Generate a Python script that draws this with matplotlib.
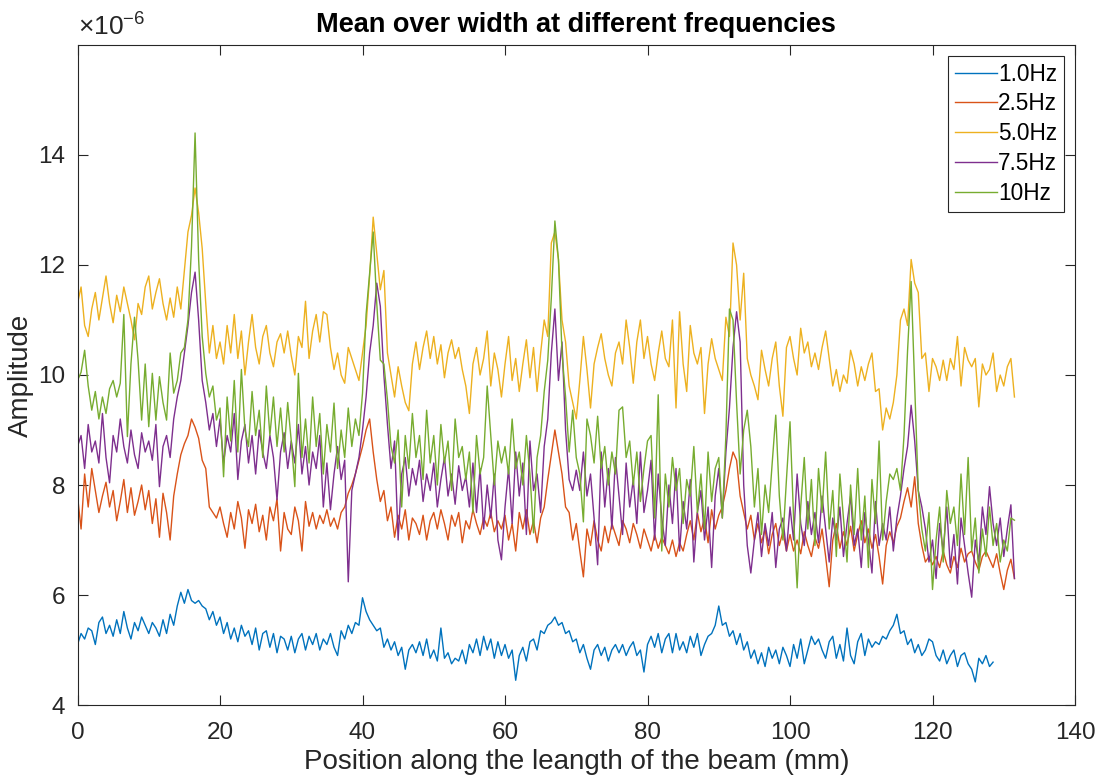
import numpy as np
import matplotlib
matplotlib.use('Agg')
import matplotlib.pyplot as plt

plt.rcParams['font.family'] = ['Liberation Sans', 'DejaVu Sans']
plt.rcParams['mathtext.fontset'] = 'custom'
plt.rcParams['mathtext.rm'] = 'Liberation Sans'
plt.rcParams['mathtext.it'] = 'Liberation Sans:italic'

# amplitudes in units of 1e-6, sampled every 0.5 mm
amp_1hz = [
    5.1, 5.3, 5.2, 5.4, 5.35, 5.1, 5.5, 5.6, 5.3, 5.45, 5.25, 5.55, 5.3, 5.7, 5.4, 5.2, 5.5, 5.35, 5.6, 5.45,
    5.3, 5.5, 5.4, 5.25, 5.55, 5.3, 5.65, 5.45, 5.8, 6.05, 5.85, 6.1, 5.9, 5.85, 5.9, 5.8, 5.75, 5.55, 5.7, 5.45,
    5.6, 5.3, 5.5, 5.2, 5.4, 5.15, 5.45, 5.25, 5.35, 5.1, 5.4, 5.0, 5.3, 5.35, 5.05, 5.3, 4.95, 5.25, 5.2, 5.0,
    5.25, 4.95, 5.2, 5.3, 5.0, 5.25, 5.1, 5.3, 5.0, 5.2, 5.1, 5.3, 5.05, 4.9, 5.35, 5.2, 5.45, 5.3, 5.5, 5.45,
    5.95, 5.7, 5.55, 5.45, 5.35, 5.4, 5.05, 5.2, 5.0, 5.15, 4.9, 5.05, 4.65, 5.0, 5.1, 4.95, 5.15, 4.9, 5.2, 4.85,
    5.0, 4.8, 5.4, 4.85, 4.95, 4.75, 4.85, 4.8, 5.0, 4.75, 5.1, 4.95, 5.2, 4.9, 5.25, 5.0, 5.2, 4.85, 5.15, 4.9,
    5.1, 4.85, 5.0, 4.45, 4.9, 5.05, 4.8, 5.15, 5.2, 5.0, 5.35, 5.3, 5.45, 5.5, 5.6, 5.45, 5.5, 5.3, 5.35, 5.15,
    5.2, 4.95, 5.1, 4.85, 4.65, 5.0, 5.1, 4.9, 5.05, 4.8, 5.0, 5.1, 4.95, 5.1, 4.9, 5.05, 5.15, 4.9, 5.0, 4.6,
    5.1, 5.25, 5.05, 5.3, 4.95, 5.2, 5.3, 4.95, 5.3, 5.0, 5.15, 4.95, 5.25, 5.05, 5.3, 4.9, 5.1, 5.25, 5.3, 5.45,
    5.8, 5.45, 5.5, 5.25, 5.35, 5.1, 5.3, 5.0, 5.15, 4.85, 5.0, 4.75, 4.95, 4.7, 5.05, 4.85, 5.0, 4.75, 5.05, 4.9,
    4.7, 5.1, 4.85, 5.2, 4.75, 5.0, 5.25, 5.1, 5.2, 5.0, 4.85, 5.15, 5.25, 4.85, 5.1, 4.8, 5.4, 4.9, 4.75, 5.15,
    5.3, 4.9, 5.2, 5.05, 5.15, 5.1, 5.25, 5.2, 5.35, 5.45, 5.65, 5.3, 5.35, 5.1, 5.2, 4.95, 5.1, 4.9, 5.0, 5.2,
    5.15, 4.9, 4.8, 5.0, 4.75, 4.9, 5.0, 4.7, 4.9, 4.95, 4.75, 4.65, 4.42, 4.85, 4.75, 4.9, 4.7, 4.78,
]

amp_2_5hz = [
    7.8, 7.2, 8.2, 7.6, 8.3, 7.9, 7.5, 7.8, 8.05, 7.6, 7.9, 7.35, 7.7, 8.1, 7.5, 7.95, 7.45, 7.7, 8.0, 7.55,
    7.9, 7.3, 7.75, 7.05, 7.85, 7.5, 7.0, 7.8, 8.2, 8.55, 8.75, 8.9, 9.2, 9.05, 8.85, 8.45, 8.3, 7.6, 7.5, 7.4,
    7.6, 7.3, 7.05, 7.5, 7.2, 7.7, 7.4, 6.85, 7.55, 7.3, 7.65, 7.15, 7.45, 7.0, 7.6, 7.35, 7.75, 6.8, 7.5, 7.2,
    7.1, 7.6, 7.35, 6.8, 7.7, 7.25, 7.5, 7.2, 7.45, 7.3, 7.55, 7.25, 7.4, 7.2, 7.5, 7.6, 7.85, 8.0, 8.2, 8.45,
    8.7, 9.0, 9.2, 8.6, 8.1, 7.7, 7.9, 7.35, 7.6, 7.05, 7.45, 7.2, 7.55, 7.0, 7.4, 7.3, 7.1, 7.45, 7.0, 7.35,
    7.5, 7.2, 7.55, 7.3, 7.0, 7.45, 7.25, 7.5, 6.95, 7.35, 7.2, 7.55, 7.3, 7.1, 7.4, 7.25, 7.5, 7.15, 7.35, 7.2,
    7.45, 7.0, 7.3, 6.8, 7.5, 7.2, 7.55, 7.1, 7.35, 6.95, 7.4, 7.6, 8.1, 8.55, 9.0, 8.6, 8.2, 7.6, 7.5, 7.0,
    7.3, 6.8, 6.33, 7.2, 6.9, 7.35, 7.0, 6.8, 7.25, 6.95, 7.3, 7.1, 6.9, 7.35, 7.2, 6.95, 7.3, 7.1, 6.85, 7.2,
    7.0, 6.8, 7.1, 6.85, 7.05, 6.9, 6.75, 7.0, 6.7, 6.95, 6.8, 7.1, 7.35, 7.0, 7.5, 7.15, 7.4, 6.95, 7.55, 7.2,
    7.45, 7.6, 7.9, 8.3, 8.6, 8.45, 7.8, 7.5, 7.2, 7.45, 7.0, 7.3, 6.95, 7.2, 6.75, 7.1, 7.3, 6.9, 7.15, 6.8,
    7.1, 6.8, 7.0, 6.75, 7.15, 6.9, 6.7, 7.05, 6.85, 7.2, 6.7, 6.15, 7.0, 7.3, 6.85, 7.15, 6.9, 7.25, 6.8, 7.1,
    7.35, 6.95, 7.2, 6.85, 7.1, 6.7, 6.2, 6.9, 7.15, 6.95, 7.25, 7.4, 7.7, 7.95, 7.6, 8.15, 7.3, 6.9, 6.6, 6.7,
    6.55, 6.7, 6.5, 6.8, 6.55, 6.4, 6.7, 6.5, 6.85, 6.6, 6.75, 6.8, 6.6, 6.45, 6.7, 6.8, 6.65, 6.5, 6.75, 6.4,
    6.1, 6.45, 6.65, 6.3,
]

amp_5hz = [
    11.3, 11.6, 10.9, 10.7, 11.2, 11.5, 11.0, 11.4, 11.8, 11.3, 10.95, 11.45, 11.15, 11.6, 11.3, 11.0, 10.64, 11.3, 11.1, 11.6,
    11.8, 11.2, 11.5, 11.75, 11.3, 11.0, 11.4, 11.05, 11.6, 11.2, 11.9, 12.6, 12.9, 13.4, 12.95, 12.3, 11.3, 10.4, 10.9, 10.3,
    10.6, 10.2, 10.9, 10.4, 11.1, 10.3, 10.8, 10.0, 10.6, 11.1, 10.5, 10.2, 10.7, 10.9, 10.4, 10.15, 10.6, 10.75, 10.4, 10.8,
    10.35, 10.0, 10.7, 10.5, 11.34, 10.3, 10.8, 11.1, 10.6, 11.15, 11.1, 10.5, 10.1, 10.4, 10.0, 9.85, 10.5, 10.3, 10.1, 9.9,
    10.4, 10.9, 11.8, 12.87, 12.2, 11.55, 11.9, 10.4, 10.0, 9.6, 10.15, 9.8, 9.5, 9.35, 10.2, 10.6, 10.1, 10.5, 10.8, 10.3,
    10.7, 10.2, 10.55, 9.95, 10.4, 10.64, 10.3, 10.5, 10.1, 9.8, 9.3, 10.2, 10.5, 10.0, 10.3, 10.8, 9.8, 10.4, 10.1, 9.6,
    10.2, 10.7, 9.9, 10.3, 9.7, 10.2, 10.64, 9.95, 10.5, 9.7, 10.4, 11.0, 10.7, 12.4, 12.6, 12.1, 11.0, 10.6, 9.8, 9.5,
    9.2, 9.9, 10.7, 10.1, 9.4, 10.2, 10.5, 10.75, 10.3, 10.0, 9.8, 10.4, 10.6, 10.2, 11.0, 10.5, 9.85, 10.6, 11.0, 10.3,
    10.7, 10.2, 9.9, 10.4, 10.8, 10.3, 10.15, 11.0, 9.4, 11.15, 10.2, 9.7, 10.9, 10.4, 10.2, 10.5, 9.3, 10.2, 10.66, 10.3,
    10.1, 9.9, 11.05, 10.7, 12.4, 12.0, 11.0, 11.85, 10.3, 10.0, 9.8, 9.55, 10.45, 10.1, 9.8, 10.3, 10.6, 9.8, 9.25, 10.5,
    10.7, 10.3, 10.0, 10.85, 10.4, 10.6, 10.15, 10.4, 10.1, 10.5, 10.8, 10.3, 9.8, 10.1, 9.7, 10.0, 9.85, 10.45, 10.2, 9.8,
    10.15, 9.9, 10.2, 10.4, 9.7, 9.75, 9.0, 9.4, 9.2, 9.5, 10.0, 11.0, 11.2, 10.9, 12.1, 11.67, 11.5, 10.3, 10.4, 9.7,
    10.3, 10.15, 9.9, 10.27, 9.9, 10.3, 10.1, 10.7, 9.8, 10.5, 10.27, 10.15, 10.3, 9.42, 10.2, 10.0, 10.1, 10.4, 9.7, 10.0,
    9.8, 10.15, 10.3, 9.6,
]

amp_7_5hz = [
    8.7, 8.9, 8.3, 9.1, 8.6, 8.8, 8.4, 9.3, 8.5, 8.04, 8.9, 8.6, 9.2, 8.7, 8.4, 9.0, 8.55, 8.3, 8.95, 8.6,
    8.8, 8.45, 9.1, 7.97, 8.7, 8.9, 8.5, 9.2, 9.6, 9.9, 10.4, 10.9, 11.5, 11.87, 11.0, 9.9, 9.5, 9.0, 9.3, 8.7,
    9.2, 8.4, 8.9, 8.6, 9.3, 8.1, 8.8, 9.1, 8.4, 8.9, 8.2, 9.0, 8.6, 8.3, 8.9, 8.5, 7.73, 8.6, 8.95, 8.3,
    8.8, 8.4, 9.1, 8.2, 8.7, 8.0, 8.6, 8.3, 8.9, 7.6, 8.4, 7.55, 8.2, 8.7, 8.1, 8.45, 6.24, 7.9, 8.2, 8.5,
    9.0, 9.6, 10.4, 10.9, 11.67, 11.25, 10.0, 9.1, 8.3, 8.8, 7.0, 8.2, 8.5, 7.8, 8.3, 8.0, 8.45, 7.7, 8.2, 7.9,
    8.4, 7.6, 8.1, 8.5, 7.8, 8.2, 7.65, 8.35, 7.9, 8.15, 7.6, 8.4, 7.5, 8.3, 7.2, 8.0, 7.4, 8.2, 7.0, 6.64,
    7.6, 8.3, 7.3, 8.6, 7.8, 8.4, 7.1, 8.8, 7.9, 8.2, 7.5, 8.7, 9.2, 10.4, 11.2, 9.9, 10.6, 9.0, 8.1, 7.9,
    8.27, 7.9, 8.6, 7.8, 8.2, 7.4, 6.55, 8.6, 7.6, 8.3, 7.2, 8.5, 7.8, 7.1, 8.4, 7.6, 8.1, 7.3, 8.6, 7.5,
    7.9, 8.45, 7.0, 8.2, 7.4, 6.9, 8.0, 7.3, 8.3, 6.8, 7.7, 7.2, 8.1, 6.6, 7.5, 7.9, 7.0, 7.6, 6.5, 7.8,
    8.3, 7.4, 8.6, 9.4, 10.5, 11.15, 10.6, 8.0, 6.9, 6.4, 7.0, 7.5, 6.7, 7.3, 6.9, 7.5, 6.5, 7.2, 7.4, 6.8,
    7.6, 7.0, 8.2, 7.3, 6.9, 7.7, 7.1, 7.5, 6.95, 7.8, 7.2, 6.6, 7.4, 7.0, 7.6, 6.7, 7.3, 7.8, 6.9, 7.2,
    6.5, 7.5, 7.0, 6.4, 7.7, 6.9, 7.3, 7.0, 7.6, 6.8, 7.4, 7.8, 8.3, 8.7, 9.45, 8.8, 7.9, 7.6, 7.2, 6.6,
    7.0, 6.3, 7.3, 6.8, 7.6, 6.5, 7.1, 6.2, 7.4, 6.9, 6.4, 5.96, 7.0, 6.6, 7.6, 7.1, 7.97, 7.3, 6.9, 7.4,
    6.7, 7.2, 7.64, 6.3,
]

amp_10hz = [
    9.9, 10.05, 10.45, 9.8, 9.36, 9.7, 9.2, 9.6, 9.3, 9.75, 9.9, 9.6, 9.85, 11.1, 8.88, 10.2, 11.05, 10.27, 9.18, 10.2,
    9.06, 10.03, 9.18, 9.97, 9.5, 9.18, 10.4, 9.67, 9.9, 10.4, 10.5, 11.0, 12.33, 14.4, 12.1, 10.7, 10.03, 9.6, 9.8, 9.18,
    9.4, 8.15, 9.6, 8.8, 9.9, 8.6, 10.1, 9.0, 8.7, 9.7, 8.9, 9.36, 8.5, 9.8, 8.9, 9.6, 8.7, 9.4, 8.6, 9.5,
    8.8, 7.97, 10.03, 8.5, 9.2, 8.4, 9.6, 8.7, 9.3, 8.2, 9.1, 8.6, 9.49, 8.3, 9.0, 8.5, 9.4, 8.7, 9.2, 8.9,
    9.67, 11.1, 11.85, 12.6, 11.3, 10.27, 10.2, 9.55, 8.7, 8.4, 9.0, 7.6, 8.9, 8.3, 9.3, 8.5, 8.9, 8.1, 9.36, 8.4,
    8.9, 8.0, 9.1, 8.4, 8.8, 7.9, 9.2, 8.5, 8.7, 8.1, 8.6, 7.5, 8.9, 8.2, 8.5, 9.8, 8.9, 8.0, 8.8, 8.4,
    8.7, 8.2, 9.2, 8.3, 8.6, 8.0, 8.9, 8.2, 7.13, 8.5, 8.9, 9.7, 10.27, 11.4, 12.8, 12.1, 10.4, 9.6, 8.6, 9.36,
    8.5, 8.2, 7.33, 9.2, 8.9, 8.4, 9.25, 8.3, 8.7, 8.0, 8.6, 8.2, 9.36, 9.42, 8.5, 8.8, 8.0, 8.6, 7.7, 8.3,
    8.8, 8.9, 7.4, 9.64, 6.8, 8.2, 7.6, 8.5, 7.9, 8.3, 7.3, 8.1, 7.8, 8.7, 7.5, 8.2, 7.2, 8.6, 7.7, 8.3,
    8.5, 7.4, 8.9, 11.2, 11.0, 9.5, 8.2, 9.0, 9.36, 8.7, 7.6, 8.3, 7.1, 8.0, 7.5, 8.4, 9.27, 7.8, 7.0, 8.1,
    9.15, 7.4, 6.13, 7.6, 8.5, 7.2, 8.1, 6.9, 8.3, 7.5, 8.6, 7.2, 7.9, 6.7, 8.2, 7.4, 6.6, 8.0, 7.1, 8.3,
    7.0, 7.8, 6.5, 8.1, 7.3, 8.8, 7.0, 7.7, 8.2, 8.1, 8.3, 7.9, 8.9, 10.45, 11.7, 9.8, 7.9, 7.2, 6.8, 7.5,
    6.1, 7.0, 7.6, 6.6, 7.9, 7.3, 7.6, 6.9, 8.2, 7.1, 8.5, 6.8, 7.4, 6.4, 7.2, 6.7, 7.6, 6.9, 7.3, 6.6,
    7.0, 6.8, 7.4, 7.36,
]

series = [amp_1hz, amp_2_5hz, amp_5hz, amp_7_5hz, amp_10hz]
labels = ['1.0Hz', '2.5Hz', '5.0Hz', '7.5Hz', '10Hz']
colors = ['#0072BD', '#D95319', '#EDB120', '#7E2F8E', '#77AC30']
step = 0.5  # mm between samples

fig = plt.figure(figsize=(11.01, 7.78), dpi=100)
ax = fig.add_axes([0.0704, 0.0938, 0.906, 0.8484])

for amp, lab, col in zip(series, labels, colors):
    x = np.arange(len(amp)) * step
    ax.plot(x, amp, color=col, lw=1.0, label=lab)

ax.set_xlim(0, 140)
ax.set_ylim(4, 16)
ax.set_xticks(np.arange(0, 141, 20))
ax.set_yticks(np.arange(4, 15, 2))

ax.tick_params(direction='in', top=True, right=True, length=7, width=0.8,
               labelsize=17.5, colors='#262626')
ax.tick_params(axis='x', pad=12)
ax.tick_params(axis='y', pad=9)
for s in ax.spines.values():
    s.set_color('#262626')
    s.set_linewidth(0.8)

# exponent label like MATLAB puts it
ax.text(0, 1.006, r'$\times10^{-6}$', transform=ax.transAxes, fontsize=19,
        color='#262626', ha='left', va='bottom')

ax.set_title('Mean over width at different frequencies', fontsize=19.5, fontweight='bold', pad=9)
ax.set_xlabel('Position along the leangth of the beam (mm)', fontsize=20, color='#262626', labelpad=4)
ax.set_ylabel('Amplitude', fontsize=20, color='#262626', labelpad=3)

leg = ax.legend(loc='upper right', fontsize=16.3, fancybox=False, edgecolor='#262626',
                framealpha=1, handlelength=1.85, handletextpad=0.05, labelspacing=0.3,
                borderpad=0.3, borderaxespad=0.48)
leg.get_frame().set_linewidth(0.8)

fig.savefig('out.png', dpi=100)
